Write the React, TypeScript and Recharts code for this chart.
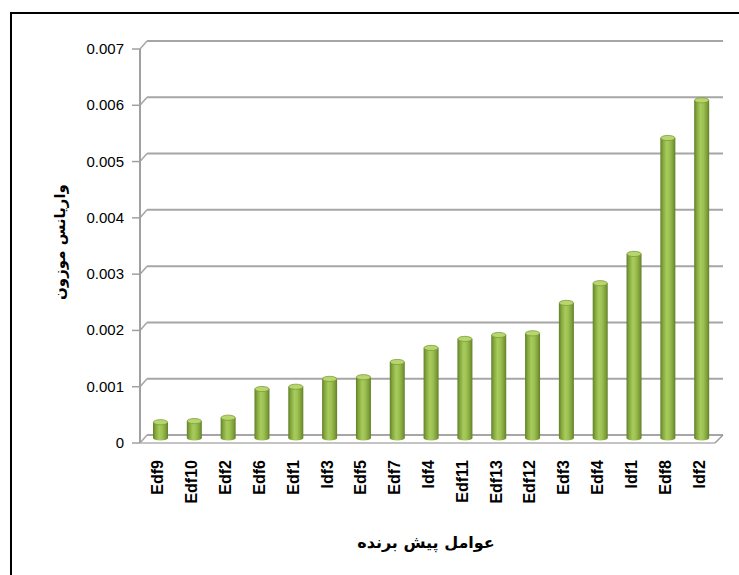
import { BarChart, Bar, XAxis, YAxis, CartesianGrid, Label } from 'recharts'

// predictors, sorted by weighted variance
const categories = [
  'Edf9', 'Edf10', 'Edf2', 'Edf6', 'Edf1', 'Idf3', 'Edf5', 'Edf7', 'Idf4',
  'Edf11', 'Edf13', 'Edf12', 'Edf3', 'Edf4', 'Idf1', 'Edf8', 'Idf2',
]
const variances = [
  0.00028, 0.0003, 0.00036, 0.00087, 0.00091, 0.00105, 0.00108, 0.00135, 0.0016,
  0.00176, 0.00183, 0.00186, 0.0024, 0.00275, 0.00327, 0.00533, 0.006,
]
const yTicks = [0, 0.001, 0.002, 0.003, 0.004, 0.005, 0.006, 0.007]

const yTitle = 'واریانس موزون'
const xTitle = 'عوامل پیش برنده'

const W = 739
const H = 575
const GRID = '#a6a6a6'
const DEPTH_X = 7
const DEPTH_Y = 8
const LATIN = '"Liberation Sans", Arial, sans-serif'
const ARABIC = '"DejaVu Sans", sans-serif'

const data = categories.map((name, i) => ({ name, value: variances[i] }))

// back-wall grid line with a small diagonal to the front axis
function gridLine(p: any) {
  const { x1, y1, x2 } = p
  const isFloor = y1 > 440
  return (
    <g key={p.key}>
      <line x1={x1} y1={y1} x2={x1 + DEPTH_X} y2={y1 - DEPTH_Y} stroke={GRID} strokeWidth={1.5} />
      <line x1={x1 + DEPTH_X} y1={y1 - DEPTH_Y} x2={x2 + 4} y2={y1 - DEPTH_Y} stroke={GRID} strokeWidth={2} />
      {isFloor && (
        <>
          <line x1={x1} y1={y1} x2={x2 - 4} y2={y1} stroke="#c4c4c4" strokeWidth={2} />
          <line x1={x2 - 4} y1={y1} x2={x2 + 4} y2={y1 - DEPTH_Y} stroke="#9a9a9a" strokeWidth={1.5} />
        </>
      )}
    </g>
  )
}

function Cylinder(p: any) {
  const { x, y, width, height } = p
  if (!width || height == null) return null
  const top = y - 5
  const bottom = y + height - 5
  const cx = x + width / 2
  return (
    <g>
      <ellipse cx={cx} cy={bottom} rx={width / 2} ry={2.5} fill="url(#cyl)" />
      <rect x={x} y={top} width={width} height={bottom - top} fill="url(#cyl)" />
      <ellipse cx={cx} cy={top} rx={width / 2 - 0.4} ry={2.6} fill="#b8d670" stroke="#7d9c37" strokeWidth={0.8} />
    </g>
  )
}

function YTick(p: any) {
  const v = p.payload.value
  return (
    <text x={p.x} y={p.y} dy={5} textAnchor="end" fontSize={15} fill="#000" fontFamily={LATIN}>
      {v === 0 ? '0' : v.toFixed(3)}
    </text>
  )
}

function XTick(p: any) {
  const x = p.x - 3
  const y = p.y
  return (
    <text
      x={x}
      y={y}
      transform={`rotate(-90, ${x}, ${y})`}
      textAnchor="end"
      dominantBaseline="central"
      fontSize={16}
      fontWeight="bold"
      fill="#000"
      fontFamily={LATIN}
    >
      {p.payload.value}
    </text>
  )
}

export default function App() {
  return (
    <div style={{ position: 'relative', width: W, height: H, overflow: 'hidden', background: '#fff' }}>
      <style>{'body{margin:0;overflow:hidden}'}</style>
      <div
        style={{
          position: 'absolute',
          left: 10,
          top: 12,
          width: W,
          height: H,
          borderTop: '2px solid #000',
          borderLeft: '2px solid #000',
        }}
      />
      <div style={{ position: 'absolute', left: 0, top: 0 }}>
        <BarChart
          width={W}
          height={H}
          data={data}
          margin={{ top: 49, right: 20, left: 0, bottom: 0 }}
          barSize={15}
        >
          <defs>
            <linearGradient id="cyl" x1="0" y1="0" x2="1" y2="0">
              <stop offset="0%" stopColor="#61802a" />
              <stop offset="18%" stopColor="#86a93e" />
              <stop offset="42%" stopColor="#a9cb5e" />
              <stop offset="62%" stopColor="#9cc052" />
              <stop offset="85%" stopColor="#7f9f38" />
              <stop offset="100%" stopColor="#61802a" />
            </linearGradient>
          </defs>
          <CartesianGrid vertical={false} horizontal={gridLine} syncWithTicks />
          <XAxis
            dataKey="name"
            interval={0}
            axisLine={false}
            tickLine={false}
            tickSize={0}
            tickMargin={17}
            height={132}
            padding={{ left: 4, right: 0 }}
            tick={XTick}
          >
            <Label
              content={() => (
                <text x={426} y={548} textAnchor="middle" fontSize={16} fontWeight="bold" fontFamily={ARABIC} fill="#000">
                  {xTitle}
                </text>
              )}
            />
          </XAxis>
          <YAxis
            width={140}
            domain={[0, 0.007]}
            ticks={yTicks}
            interval={0}
            axisLine={{ stroke: '#a0a0a0', strokeWidth: 2 }}
            tickLine={{ stroke: '#a0a0a0', strokeWidth: 1.5 }}
            tickSize={8}
            tickMargin={8}
            tick={YTick}
          >
            <Label
              content={() => (
                <text
                  x={60}
                  y={242}
                  transform="rotate(-90, 60, 242)"
                  textAnchor="middle"
                  dominantBaseline="central"
                  fontSize={15}
                  fontWeight="bold"
                  fontFamily={ARABIC}
                  fill="#000"
                >
                  {yTitle}
                </text>
              )}
            />
          </YAxis>
          <Bar dataKey="value" shape={Cylinder} isAnimationActive={false} />
        </BarChart>
      </div>
    </div>
  )
}
